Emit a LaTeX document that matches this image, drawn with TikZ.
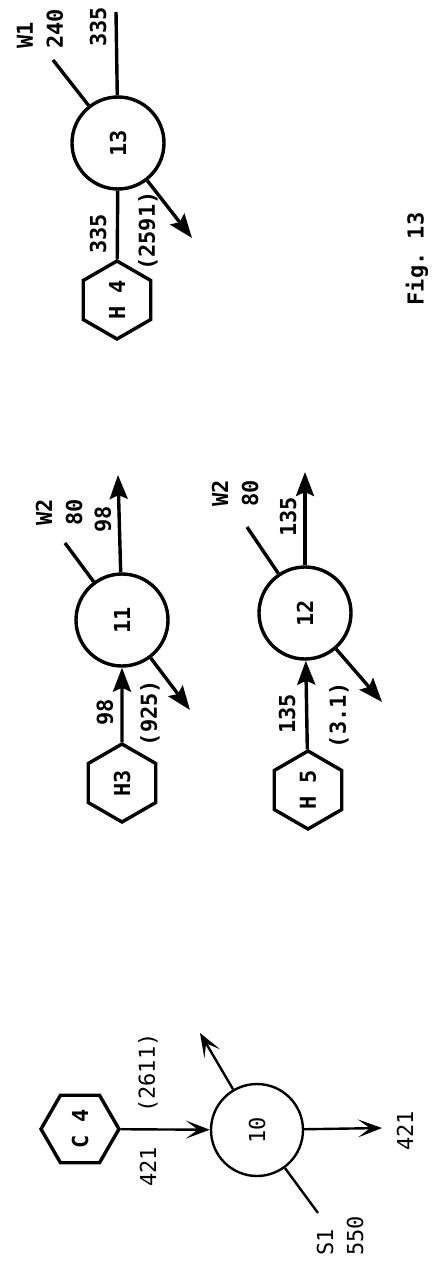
\documentclass[tikz,border=0pt]{standalone}
\usepackage{fontspec}
\setmonofont{DejaVu Sans Mono}
\usepackage{tikz}
\usetikzlibrary{arrows.meta,shapes.geometric}
\tikzset{
  >={Stealth[length=12pt,width=9pt,inset=2pt]},
  % enheter
  un/.style={circle,draw,line width=1.7pt,inner sep=0pt,minimum size=46pt,
             rotate=90,font=\ttfamily\bfseries\fontsize{11}{13}\selectfont},
  hx/.style={regular polygon,regular polygon sides=6,draw,line width=1.7pt,
             inner sep=0pt,minimum size=39pt,rotate=90,
             font=\ttfamily\bfseries\fontsize{11}{13}\selectfont},
  % strömmar
  ln/.style={line width=1.7pt},
  ar/.style={->,line width=1.7pt},
  lnt/.style={line width=1.2pt},
  art/.style={-{Stealth[length=12pt,width=9pt,inset=6pt]},line width=1.2pt},
  fl/.style={rotate=90,inner sep=0pt,align=left,
             font=\ttfamily\bfseries\fontsize{11}{15}\selectfont},
  flt/.style={fl,font=\ttfamily\fontsize{11}{15}\selectfont},
}
\begin{document}
\begin{tikzpicture}[x=0.5pt,y=-0.5pt]
\useasboundingbox (0,0) rectangle (436,1263);
  % enhet 13
  \node[un] (c13) at (118,143) {13};
  \node[hx] (h4) at (117,300) {H 4};
  \coordinate (t13) at (116,12);
  \coordinate (w1) at (53,60);
  \coordinate (o13) at (192,238);
  \draw[ln] (c13) -- (t13);
  \draw[ln] (c13) -- (w1);
  \draw[ln] (h4) -- (c13);
  \draw[ar] (c13) -- (o13);
  \node[fl] (l13a) at (98,27) {335};
  \node[fl] (l13b) at (40,29) {W1\\240};
  \node[fl] (l13c) at (98,234) {335};
  \node[fl] (l13d) at (148,231) {(2591)};
  \node[fl] (fig) at (417,259) {Fig. 13};
  % enhet 11
  \node[un] (c11) at (122,620) {11};
  \node[hx] (h3) at (122,783) {H3};
  \coordinate (t11) at (118,475);
  \coordinate (w2a) at (65,543);
  \coordinate (o11) at (190,710);
  \draw[ar] (c11) -- (t11);
  \draw[ln] (c11) -- (w2a);
  \draw[ar] (h3) -- (c11);
  \draw[ar] (c11) -- (o11);
  \node[fl,align=right] (l11a) at (59,512) {W2\\80};
  \node[fl] (l11b) at (103,519) {98};
  \node[fl] (l11c) at (105,712) {98};
  \node[fl] (l11d) at (150,713) {(925)};
  % enhet 12
  \node[un] (c12) at (305,613) {12};
  \node[hx] (h5) at (308,790) {H 5};
  \coordinate (t12) at (305,472);
  \coordinate (w2b) at (247,527);
  \coordinate (o12) at (382,702);
  \draw[ar] (c12) -- (t12);
  \draw[ln] (c12) -- (w2b);
  \draw[ar] (h5) -- (c12);
  \draw[ar] (c12) -- (o12);
  \node[fl] (l12a) at (235,493) {W2\\80};
  \node[fl] (l12b) at (288,517) {135};
  \node[fl] (l12c) at (287,714) {135};
  \node[fl] (l12d) at (339,715) {(3.1)};
  % enhet 10
  \node[un,line width=1.2pt,font=\ttfamily\fontsize{11}{13}\selectfont] (c10) at (257,1130) {10};
  \node[hx,shape border rotate=90] (c4) at (80,1129) {C 4};
  \coordinate (r10) at (382,1128);
  \coordinate (u10) at (200,1033);
  \coordinate (s1) at (318,1213);
  \draw[art] (c4) -- (c10);
  \draw[art] (c10) -- (r10);
  \draw[art] (c10) -- (u10);
  \draw[lnt] (c10) -- (s1);
  \node[flt] (l10a) at (148,1167) {421};
  \node[flt] (l10b) at (148,1073) {(2611)};
  \node[flt] (l10c) at (405,1131) {421};
  \node[flt] (l10d) at (340,1236) {S1\\550};
\end{tikzpicture}
\end{document}
